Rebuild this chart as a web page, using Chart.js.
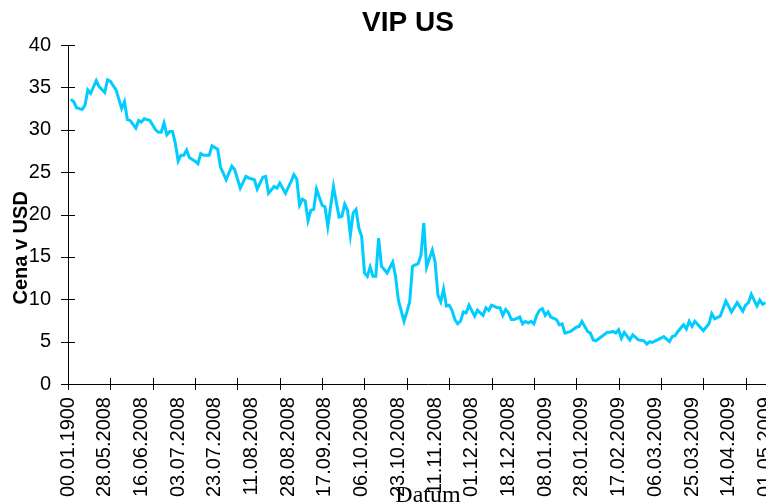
<!DOCTYPE html>
<html>
<head>
<meta charset="utf-8">
<script src="https://cdn.jsdelivr.net/npm/chart.js@4/dist/chart.umd.min.js"></script>
<style>
  html, body { margin: 0; padding: 0; background: #fff; overflow: hidden; }
  canvas { display: block; }
</style>
</head>
<body>
<canvas id="vip" width="816" height="503"></canvas>
<script>
/* Tick labels shown on the date axis (one every 13 trading days) */
var tickLabels = ["00.01.1900", "28.05.2008", "16.06.2008", "03.07.2008", "23.07.2008",
    "11.08.2008", "28.08.2008", "17.09.2008", "06.10.2008", "23.10.2008", "11.11.2008",
    "01.12.2008", "18.12.2008", "08.01.2009", "28.01.2009", "17.02.2009", "06.03.2009",
    "25.03.2009", "14.04.2009", "01.05.2009"];
var labelStep = 13;
var tickMarkStep = 15;
var lastDay = 255;

/* Trading day number and closing price (USD) */
var dayIndex = [1, 2, 3, 4, 5, 6, 7, 8, 10, 11, 13, 14, 15, 17, 19, 20, 21, 22, 24, 25,
    26, 27, 29, 31, 32, 33, 34, 35, 36, 37, 38, 39, 40, 41, 42, 43, 45, 46, 47, 48,
    50, 51, 53, 54, 56, 58, 59, 61, 63, 64, 66, 67, 69, 70, 71, 73, 74, 75, 77, 79,
    80, 81, 82, 83, 84, 85, 86, 87, 88, 90, 91, 92, 94, 96, 97, 98, 99, 100, 101, 102,
    103, 104, 105, 106, 107, 108, 109, 110, 111, 113, 115, 116, 117, 119, 120, 121, 122, 124, 125, 126,
    127, 129, 130, 131, 132, 133, 134, 135, 136, 137, 138, 139, 140, 141, 142, 144, 145, 147, 148, 149,
    150, 152, 153, 154, 155, 156, 157, 158, 160, 161, 162, 163, 164, 165, 166, 167, 168, 169, 170, 171,
    173, 174, 175, 176, 178, 180, 181, 182, 184, 185, 186, 187, 189, 191, 192, 193, 194, 195, 196, 197,
    199, 200, 202, 204, 205, 206, 207, 208, 210, 211, 213, 214, 215, 216, 218, 219, 220, 221, 222, 225,
    227, 228, 229, 231, 233, 235, 237, 239, 240, 241, 242, 244, 245, 246, 247];
var price = [33.6, 33.3, 32.6, 32.5, 32.4, 32.9, 34.7, 34.3, 35.8, 35.1, 34.4, 35.9, 35.7, 34.7, 32.5, 33.3, 31.2, 31.1, 30.2, 31.1,
    30.9, 31.3, 31.1, 30.0, 29.7, 29.7, 30.8, 29.4, 29.8, 29.8, 28.4, 26.3, 27.0, 27.0, 27.6, 26.7, 26.3, 26.0, 27.2, 27.0,
    27.0, 28.1, 27.7, 25.6, 24.1, 25.7, 25.3, 23.1, 24.5, 24.3, 24.1, 23.0, 24.4, 24.5, 22.5, 23.3, 23.1, 23.7, 22.5, 23.9,
    24.7, 24.2, 21.1, 21.8, 21.6, 19.3, 20.5, 20.6, 23.0, 21.1, 20.9, 18.6, 23.3, 19.7, 19.8, 21.2, 20.5, 17.6, 20.2, 20.6,
    18.4, 17.4, 13.1, 12.7, 13.8, 12.7, 12.7, 17.2, 13.9, 13.1, 14.4, 12.7, 9.9, 7.4, 8.5, 9.7, 13.9, 14.2, 15.2, 19.0,
    13.8, 15.8, 14.4, 10.5, 9.7, 11.2, 9.2, 9.3, 8.7, 7.6, 7.1, 7.4, 8.5, 8.4, 9.3, 8.0, 8.7, 8.1, 9.0, 8.7,
    9.3, 9.0, 9.0, 8.1, 8.8, 8.4, 7.6, 7.6, 7.9, 7.1, 7.4, 7.2, 7.4, 7.1, 8.1, 8.7, 8.9, 8.1, 8.5, 7.9,
    7.6, 7.0, 7.1, 6.0, 6.2, 6.7, 6.8, 7.4, 6.2, 6.0, 5.2, 5.1, 5.6, 6.1, 6.1, 6.2, 6.0, 6.4, 5.4, 6.1,
    5.2, 5.8, 5.2, 5.1, 4.7, 5.0, 4.9, 5.1, 5.4, 5.6, 5.0, 5.6, 5.7, 6.2, 7.0, 6.5, 7.4, 6.8, 7.4, 6.3,
    7.1, 8.3, 7.7, 8.0, 9.8, 8.5, 9.6, 8.6, 9.3, 9.6, 10.6, 9.2, 9.9, 9.4, 9.6];

var points = dayIndex.map(function (d, i) { return { x: d, y: price[i] }; });

/* Excel-like tick marks crossing the axes */
var crossTicks = {
    id: 'crossTicks',
    beforeDatasetsDraw: function (chart) {
        var ctx = chart.ctx, x = chart.scales.x, y = chart.scales.y;
        ctx.save();
        ctx.strokeStyle = '#000';
        ctx.lineWidth = 1;
        ctx.beginPath();
        for (var d = 0; d <= lastDay; d += tickMarkStep) {
            var px = Math.round(x.getPixelForValue(d)) + 0.5;
            ctx.moveTo(px, y.bottom - 6);
            ctx.lineTo(px, y.bottom + 6);
        }
        y.ticks.forEach(function (t) {
            var py = Math.round(y.getPixelForValue(t.value)) + 0.5;
            ctx.moveTo(x.left - 7, py);
            ctx.lineTo(x.left + 7, py);
        });
        ctx.stroke();
        ctx.restore();
    }
};

Chart.defaults.font.family = '"Liberation Sans", Arial, sans-serif';
Chart.defaults.color = '#000';

var chartVip = new Chart(document.getElementById('vip'), {
    type: 'line',
    data: {
        datasets: [
            {
                label: 'VIP US',
                data: points,
                borderColor: '#00CCFF',
                borderWidth: 3,
                pointRadius: 0,
                tension: 0,
                fill: false
            }
        ]
    },
    options: {
        responsive: false,
        animation: false,
        layout: { padding: { left: 28, right: 28, top: 0, bottom: 0 } },
        plugins: {
            legend: { display: false },
            tooltip: { enabled: false },
            title: {
                display: true,
                text: 'VIP US',
                font: { size: 28, weight: 'bold' },
                color: '#000',
                padding: { top: 6.2, bottom: 5.2 }
            }
        },
        scales: {
            x: {
                type: 'linear',
                min: 0,
                max: lastDay,
                bounds: 'data',
                grid: { display: false, drawTicks: false },
                border: { display: true, color: '#000', width: 1 },
                afterBuildTicks: function (scale) {
                    scale.ticks = tickLabels.map(function (_, i) { return { value: i * labelStep }; });
                },
                ticks: {
                    autoSkip: false,
                    minRotation: 90,
                    maxRotation: 90,
                    padding: 13,
                    font: { size: 20 },
                    callback: function (value) {
                        return tickLabels[Math.round(value / labelStep)] || '';
                    }
                },
                title: {
                    display: true,
                    text: 'Datum',
                    font: { family: '"Liberation Serif", "Times New Roman", serif', size: 24 },
                    color: '#000',
                    padding: { top: -28.5, bottom: -7.4 }
                }
            },
            y: {
                min: 0,
                max: 40,
                grid: { display: false, drawTicks: false },
                border: { display: true, color: '#000', width: 1 },
                ticks: {
                    stepSize: 5,
                    padding: 17,
                    font: { size: 20 }
                },
                title: {
                    display: true,
                    text: 'Cena v USD' + '\u00a0'.repeat(12),
                    font: { size: 20, weight: 'bold' },
                    color: '#000',
                    padding: { top: -19, bottom: -21.2 }
                }
            }
        }
    },
    plugins: [crossTicks]
});
</script>
</body>
</html>
